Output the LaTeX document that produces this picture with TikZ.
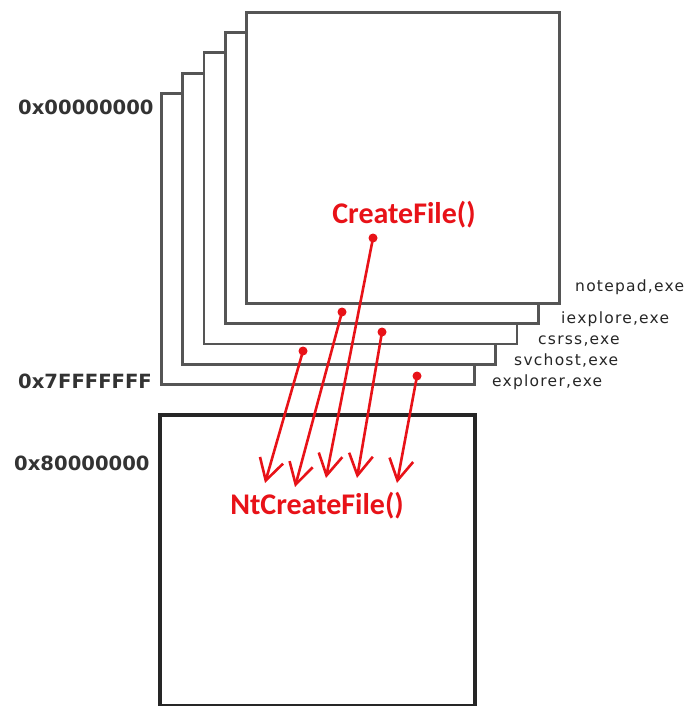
\documentclass[tikz,border=0pt]{standalone}
\usepackage{fontspec}
\setmainfont{DejaVu Sans}
\newfontfamily\hexfont{DejaVu Sans}
\newfontfamily\procfont[LetterSpace=8]{DejaVu Sans}
\newfontfamily\apifont{Carlito}
\usepackage{tikz}
\usetikzlibrary{arrows.meta}
\definecolor{apired}{RGB}{232,18,24}
\definecolor{framegray}{RGB}{85,85,85}
\tikzset{
  proc/.style  ={draw=framegray, line width=2.8pt, fill=white, rectangle, inner sep=0pt, minimum width=313pt, minimum height=291pt, anchor=north west},
  kernel/.style={draw=black!85, line width=4pt, fill=white, rectangle, inner sep=0pt, minimum width=315pt, minimum height=291pt, anchor=north west},
  addr/.style  ={font=\hexfont\bfseries\fontsize{19.6}{19.6}\selectfont, text=black!80, anchor=west, inner sep=0pt},
  pname/.style ={font=\procfont\fontsize{15.5}{15.5}\selectfont, text=black!85, anchor=west, inner sep=0pt},
  api/.style   ={font=\apifont\bfseries\fontsize{30}{30}\selectfont, text=apired, inner sep=0pt},
  dot/.style   ={circle, fill=apired, inner sep=0pt, minimum size=9pt},
  call/.style  ={-{Straight Barb[length=21pt, width=24pt]}, apired, line width=2.6pt},
}

\begin{document}
\begin{tikzpicture}[x=1pt, y=-1pt]
  \useasboundingbox (0,0) rectangle (693,706);

  % user space, one frame per process (back to front)
  \foreach \i/\nm in {0/explorer,1/svchost,2/csrss,3/iexplore,4/notepad}
    \node[proc] (p-\nm) at ({160+21.25*\i},{92-20.25*\i}) {};

  % kernel space
  \node[kernel] (k) at (158,413) {};

  \node[addr] (a-low)  at (18,107) {0x00000000};
  \node[addr] (a-top)  at (18,381) {0x7FFFFFFF};
  \node[addr] (a-kern) at (14,463) {0x80000000};

  \node[pname] (n-notepad)  at (575,287) {notepad,exe};
  \node[pname] (n-iexplore) at (561,319) {iexplore,exe};
  \node[pname] (n-csrss)    at (538,341) {csrss,exe};
  \node[pname] (n-svchost)  at (514,361) {svchost,exe};
  \node[pname] (n-explorer) at (492,382) {explorer,exe};

  \node[api] (create)   at (404,215) {CreateFile()};
  \node[api] (ntcreate) at (317,506) {NtCreateFile()};

  \node[dot] (d-notepad)  at (373,238) {};
  \node[dot] (d-iexplore) at (342,312) {};
  \node[dot] (d-csrss)    at (382,332) {};
  \node[dot] (d-svchost)  at (303,351) {};
  \node[dot] (d-explorer) at (417,376) {};

  \coordinate (t1) at (265,483);
  \coordinate (t2) at (295,487);
  \coordinate (t3) at (326,478);
  \coordinate (t4) at (357,478);
  \coordinate (t5) at (397,483);

  \draw[call] (d-svchost.center)  -- (t1);
  \draw[call] (d-iexplore.center) -- (t2);
  \draw[call] (d-notepad.center)  -- (t3);
  \draw[call] (d-csrss.center)    -- (t4);
  \draw[call] (d-explorer.center) -- (t5);
\end{tikzpicture}
\end{document}
